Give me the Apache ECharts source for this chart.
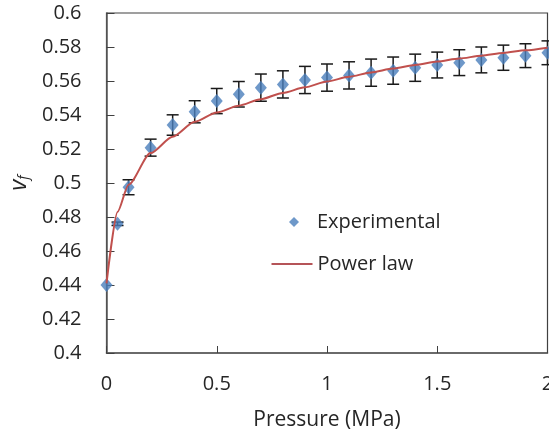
<!DOCTYPE html>
<html>
<head>
<meta charset="utf-8">
<script src="https://cdn.jsdelivr.net/npm/echarts@6/dist/echarts.min.js"></script>
<style>
  html, body { margin: 0; padding: 0; background: #fff; }
  #main { width: 549px; height: 439px; }
</style>
</head>
<body>
<div id="main"></div>
<script>
// pressure (MPa)
const pressure = [0, 0.05, 0.1, 0.2, 0.3, 0.4, 0.5, 0.6, 0.7, 0.8, 0.9, 1.0, 1.1, 1.2, 1.3, 1.4, 1.5, 1.6, 1.7, 1.8, 1.9, 2.0]
// measured fibre volume fraction
const vfExp = [0.440, 0.476, 0.4975, 0.5208, 0.5341, 0.5419, 0.5482, 0.5522, 0.5561, 0.5580, 0.5606, 0.5620, 0.5633, 0.5649, 0.5661, 0.5678, 0.5694, 0.5708, 0.5724, 0.5737, 0.5749, 0.5766]
// +/- error
const vfErr = [0, 0.001, 0.0044, 0.005, 0.006, 0.0065, 0.0074, 0.0075, 0.008, 0.008, 0.008, 0.008, 0.008, 0.008, 0.008, 0.008, 0.0076, 0.0076, 0.0076, 0.0074, 0.007, 0.007]
// power law fit
const vfFit = [0.441, 0.483, 0.499, 0.5176, 0.5272, 0.536, 0.5415, 0.5455, 0.5493, 0.5530, 0.5563, 0.5597, 0.5625, 0.5650, 0.5673, 0.5694, 0.5714, 0.5732, 0.5749, 0.5765, 0.5781, 0.5796]

const font = 'Open Sans'
const txt = '#262626'

let myChart = echarts.init(document.getElementById('main'))

const option = {
  backgroundColor: '#fff',
  animation: false,
  grid: {
    left: 106.5,
    right: 1.5,
    top: 13,
    bottom: 86,
    outerBoundsMode: 'none',
    show: true,
    borderColor: '#404040',
    borderWidth: 1.2,
  },
  legend: [
    {
      orient: 'vertical',
      left: 289,
      top: 210,
      padding: 0,
      itemWidth: 10,
      itemHeight: 10,
      data: [{ name: 'Experimental', icon: 'diamond' }],
      textStyle: { fontFamily: font, fontSize: 20, color: txt, lineHeight: 24, padding: [0, 0, 0, 13] },
    },
    {
      orient: 'vertical',
      left: 271.5,
      top: 252,
      padding: 0,
      itemWidth: 41,
      itemHeight: 2,
      data: [{ name: 'Power law', icon: 'rect', itemStyle: { color: '#B55458' } }],
      textStyle: { fontFamily: font, fontSize: 20, color: txt, lineHeight: 24 },
    },
  ],
  xAxis: {
    type: 'value',
    min: 0,
    max: 2,
    interval: 0.5,
    name: 'Pressure (MPa)',
    nameLocation: 'middle',
    nameGap: 57,
    nameTextStyle: { fontFamily: font, fontSize: 21, color: txt },
    axisLine: { lineStyle: { color: '#595959', width: 1.5 } },
    axisTick: { inside: true, length: 7, lineStyle: { color: '#404040' } },
    axisLabel: { fontFamily: font, fontSize: 20, color: txt, margin: 21 },
    splitLine: { show: false },
  },
  yAxis: {
    type: 'value',
    min: 0.4,
    max: 0.6,
    interval: 0.02,
    name: '{v|v}{f|f}',
    nameLocation: 'middle',
    nameGap: 75,
    nameTextStyle: {
      rich: {
        v: { fontFamily: font, fontStyle: 'italic', fontSize: 24, color: txt },
        f: { fontFamily: font, fontStyle: 'italic', fontSize: 14, color: txt, padding: [10, 0, 0, 0] },
      },
    },
    axisLine: { show: true, lineStyle: { color: '#595959', width: 1.5 } },
    axisTick: { show: true, inside: true, length: 8, lineStyle: { color: '#404040' } },
    axisLabel: { fontFamily: font, fontSize: 20, color: txt, margin: 25 },
    splitLine: { show: false },
  },
  series: [
    // error bars
    {
      name: 'err',
      type: 'custom',
      z: 2,
      data: pressure.map((p, i) => [p, vfExp[i] - vfErr[i], vfExp[i] + vfErr[i]]),
      renderItem: function (params, api) {
        const lo = api.coord([api.value(0), api.value(1)])
        const hi = api.coord([api.value(0), api.value(2)])
        if (Math.abs(hi[1] - lo[1]) < 1) return null
        const w = 6
        const st = { stroke: '#1a1a1a', lineWidth: 1.5 }
        return {
          type: 'group',
          children: [
            { type: 'line', shape: { x1: hi[0], y1: hi[1], x2: lo[0], y2: lo[1] }, style: st },
            { type: 'line', shape: { x1: hi[0] - w, y1: hi[1], x2: hi[0] + w, y2: hi[1] }, style: st },
            { type: 'line', shape: { x1: lo[0] - w, y1: lo[1], x2: lo[0] + w, y2: lo[1] }, style: st },
          ],
        }
      },
      encode: { x: 0, y: [1, 2] },
      silent: true,
    },
    {
      name: 'Experimental',
      type: 'scatter',
      z: 3,
      symbol: 'diamond',
      symbolSize: [12, 14],
      itemStyle: { color: '#4A7EBB' },
      data: pressure.map((p, i) => [p, vfExp[i]]),
    },
    {
      name: 'Power law',
      type: 'line',
      z: 4,
      symbol: 'none',
      smooth: 0.25,
      smoothMonotone: 'x',
      lineStyle: { color: '#C0504D', width: 2 },
      itemStyle: { color: '#C0504D' },
      data: pressure.map((p, i) => [p, vfFit[i]]),
    },
  ],
}

myChart.setOption(option)
window.addEventListener('resize', function () {
  myChart.resize()
})
</script>
</body>
</html>
